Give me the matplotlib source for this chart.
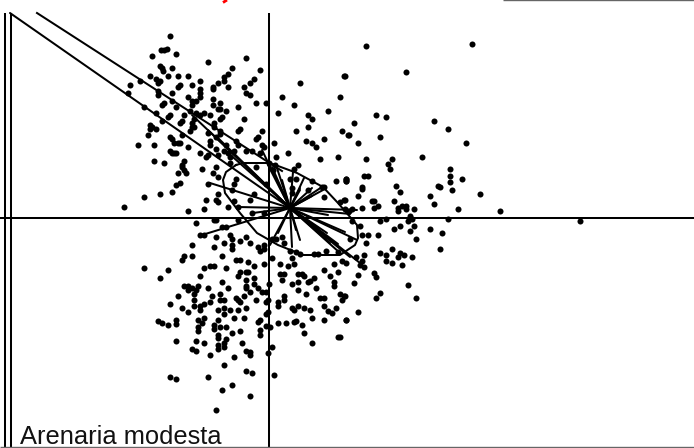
import numpy as np
import matplotlib
matplotlib.use("Agg")
import matplotlib.pyplot as plt

# Scores, per quadrant of the reference (units: 1/3 pixel within each quadrant)
upper_left = [(511,109),(483,151),(491,150),(501,146),(457,169),(529,163),(625,187),(739,175),(481,199),(485,205),(489,212),(517,205),(697,205),(781,211),(685,221),(451,227),(505,227),(535,227),(565,227),(469,238),(475,250),(481,244),(421,244),(601,244),(673,232),(673,244),(655,250),(763,238),(751,250),(901,250),(1033,227),(391,256),(577,256),(541,256),(535,262),(639,262),(639,268),(685,262),(733,262),(601,268),(601,280),(475,274),(475,286),(385,280),(517,280),(739,280),(751,286),(601,292),(565,292),(847,292),(1021,292),(577,304),(589,304),(577,316),(639,298),(517,304),(493,310),(487,316),(433,322),(529,322),(639,316),(661,310),(655,328),(661,328),(679,334),(715,322),(769,310),(799,310),(883,316),(985,334),(571,334),(469,340),(553,346),(589,340),(601,346),(613,340),(631,346),(835,340),(925,346),(937,358),(511,346),(505,352),(487,364),(547,364),(541,370),(583,358),(577,370),(667,352),(661,358),(733,358),(643,370),(451,376),(451,388),(457,382),(469,388),(577,382),(583,382),(571,394),(625,400),(643,382),(661,394),(661,402),(649,410),(721,388),(715,394),(787,394),(889,394),(925,382),(1027,394),(1045,404),(445,404),(547,404),(511,410),(517,418),(523,428),(535,428),(541,428),(415,434),(463,434),(565,440),(631,424),(631,436),(679,434),(709,424),(715,434),(775,412),(769,418),(823,428),(919,422),(937,428),(949,440),(973,416),(787,434),(793,440),(511,452),(517,458),(523,458),(529,458),(601,458),(625,464),(619,470),(649,446),(655,464),(673,452),(685,458),(703,452),(691,470),(739,452),(757,452),(781,458),(865,458),(829,470),(961,476),(1015,470),(463,482),(493,488),(553,482),(547,494),(547,500),(607,506),(649,500),(553,510),(559,518),(535,518),(639,518),(655,530),(691,488),(769,500),(895,494),(883,506),(709,536),(871,536),(889,536),(937,542),(1009,542),(1039,536),(1039,542),(541,548),(529,554),(625,552),(703,552),(799,552),(517,576),(481,582),(433,592),(655,582),(697,570),(763,582),(925,570),(973,560),(973,590),(967,560),(619,600),(649,600),(655,606),(703,604),(751,600),(1033,600),(1021,606),(373,622),(565,634),(613,628),(685,622),(715,622),(757,640),(793,640),(589,670),(643,660),(649,660),(713,660),(877,565),(877,578),(826,494),(808,490),(820,510)]
upper_right = [(67,139),(385,133),(187,215),(3,227),(97,346),(127,352),(31,370),(271,364),(313,388),(15,404),(109,410),(43,428),(367,428),(67,476),(145,476),(235,470),(133,493),(139,506),(319,506),(61,529),(73,529),(7,536),(7,542),(319,529),(355,536),(319,547),(55,560),(55,566),(157,559),(283,559),(287,560),(169,577),(325,571),(43,589),(259,589),(409,583),(3,599),(85,604),(91,604),(151,604),(271,611),(103,617),(91,623),(55,623),(163,623),(175,617),(187,617),(187,628),(163,634),(211,628),(343,628),(25,628),(469,634),(199,647),(193,662),(205,658),(109,664),(127,658),(313,658),(709,664),(25,664),(3,628),(15,634)]
lower_left = [(601,33),(613,33),(649,39),(667,9),(679,9),(691,33),(697,45),(721,51),(739,39),(751,57),(577,63),(643,69),(673,57),(697,63),(697,75),(775,70),(781,80),(793,63),(793,75),(817,45),(829,45),(847,39),(853,57),(871,80),(889,85),(901,91),(943,91),(955,91),(979,80),(1015,85),(1027,110),(553,97),(547,109),(577,97),(667,97),(709,109),(721,109),(745,115),(763,127),(793,121),(817,103),(877,103),(883,121),(865,127),(841,121),(1003,121),(433,133),(505,139),(481,163),(613,133),(631,127),(643,127),(679,133),(601,157),(721,145),(715,157),(739,145),(745,145),(763,163),(841,151),(853,151),(847,169),(895,151),(907,151),(913,157),(973,139),(991,157),(1015,145),(667,175),(739,169),(685,193),(739,187),(739,193),(751,205),(763,181),(775,193),(787,205),(799,205),(808,181),(877,181),(895,175),(895,199),(943,163),(931,170),(925,175),(949,193),(1003,175),(1003,187),(919,211),(553,187),(565,187),(565,199),(577,193),(595,187),(589,199),(583,211),(625,193),(535,217),(661,211),(637,217),(661,229),(631,235),(673,229),(709,223),(715,229),(721,235),(733,217),(769,229),(805,229),(799,235),(835,235),(835,247),(851,217),(853,229),(961,223),(973,223),(1021,211),(1033,217),(1027,229),(511,241),(583,229),(583,247),(601,247),(601,259),(613,241),(547,253),(565,265),(655,259),(673,253),(691,259),(715,259),(739,253),(673,271),(877,253),(883,259),(895,247),(913,253),(931,259),(973,247),(985,262),(997,268),(1009,253),(937,283),(973,287),(1039,287),(475,292),(487,298),(505,304),(529,289),(529,301),(595,287),(613,283),(607,298),(655,289),(703,283),(733,283),(781,289),(775,295),(799,271),(805,265),(799,307),(811,310),(781,317),(781,334),(835,298),(859,298),(883,295),(889,292),(907,304),(595,310),(595,322),(643,304),(643,316),(661,310),(679,310),(697,328),(721,322),(655,334),(655,343),(913,328),(1015,340),(1021,340),(529,352),(589,352),(613,358),(679,346),(673,358),(673,370),(655,364),(655,376),(727,358),(937,358),(577,376),(589,382),(631,394),(703,400),(739,382),(751,385),(751,394),(817,370),(805,388),(673,424),(739,440),(757,446),(823,454),(511,460),(529,466),(625,460),(697,482),(667,499),(751,517),(649,559)]
lower_right = [(49,6),(151,16),(169,6),(211,6),(199,22),(259,16),(295,28),(103,34),(73,34),(55,34),(217,46),(19,46),(67,58),(145,76),(289,76),(109,88),(127,94),(169,88),(181,94),(163,98),(205,98),(61,94),(127,110),(145,116),(175,122),(7,116),(55,110),(49,122),(61,128),(43,152),(91,146),(97,158),(31,176),(193,182),(109,206),(97,223),(217,223),(3,217),(43,265),(7,287),(35,100)]

# Vectors from the centroid, and the envelope (pixel units of the reference)
centroid = (290, 208)
vector_x = [10,192,208,225,218,210,237,253,262,272,276,293,322,323,357,350,202,278,270,292,350,340,330,360,357,327,318,310,300,282,304,312,345,268,300,296,312,300,284,328,338]
vector_y = [13,115,130,150,138,183,207,213,150,167,165,172,187,190,210,214,235,233,245,247,257,253,243,263,240,233,228,224,240,180,178,188,232,165,188,230,196,190,192,215,244]
free_line_x = [37, 282]
free_line_y = [13, 171]
envelope_x = [236,243,270,297,323,338,357,358,355,340,303,278,257,240,225,223,226,236]
envelope_y = [165,163,163,173,187,203,225,238,245,255,255,245,233,213,193,180,172,165]

fig = plt.figure(figsize=(6.94, 4.48), dpi=100)
ax = fig.add_axes([0, 0, 1, 1])
ax.set_xlim(0, 694)
ax.set_ylim(448, 0)
ax.axis("off")

lw = 1.45
ax.plot([269, 269], [13, 447], color="black", lw=lw, solid_capstyle="butt")
ax.plot([0, 694], [218, 218], color="black", lw=lw, solid_capstyle="butt")
ax.plot([5, 5], [13, 447], color="black", lw=lw, solid_capstyle="butt")
ax.plot([11, 11], [13, 447], color="black", lw=lw, solid_capstyle="butt")
ax.plot([0, 694], [447.5, 447.5], color="#666666", lw=1.0, solid_capstyle="butt")
ax.plot([503, 694], [0.4, 0.4], color="#666666", lw=1.0, solid_capstyle="butt")
ax.plot([223, 227], [2.5, 0], color="red", lw=2, solid_capstyle="butt")

for vx, vy in zip(vector_x, vector_y):
    ax.plot([centroid[0], vx], [centroid[1], vy], color="black", lw=lw, solid_capstyle="round")
ax.plot(free_line_x, free_line_y, color="black", lw=lw)
ax.plot(envelope_x, envelope_y, color="black", lw=lw)

offsets = [(upper_left, 0, 0), (upper_right, 1032, 0), (lower_left, 0, 672), (lower_right, 1032, 672)]
for pts, dx, dy in offsets:
    arr = np.array(pts, dtype=float)
    ax.scatter((arr[:, 0] + dx) / 3, (arr[:, 1] + dy) / 3, s=19, color="black", linewidths=0, zorder=3)

ax.text(20, 444, "Arenaria modesta", fontsize=18.4, family="Liberation Sans", color="#111111", va="baseline", ha="left")

fig.savefig("out.png", dpi=100, facecolor="white")
